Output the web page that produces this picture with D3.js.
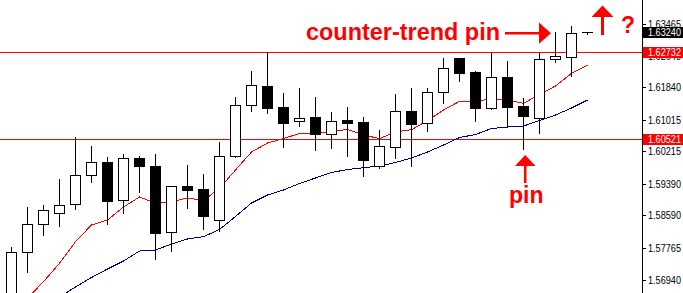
<!DOCTYPE html>
<html>
<head>
<meta charset="utf-8">
<script src="https://cdn.jsdelivr.net/npm/d3@7"></script>
<style>
  html, body { margin: 0; padding: 0; background: #fff; }
  svg { display: block; }
</style>
</head>
<body>
<svg id="chart" width="683" height="293"></svg>
<script>
// GBP/USD style candle data (one bar per index)
const opens  = [1.56437, 1.57649, 1.58361, 1.58641, 1.58869, 1.59606, 1.59937, 1.58971, 1.60038, 1.59835,
                1.58153, 1.59334, 1.59258, 1.58463, 1.60104, 1.61385, 1.61876, 1.61342, 1.60979, 1.61088,
                1.60663, 1.61012, 1.60961, 1.59850, 1.60333, 1.61240, 1.60928, 1.61716, 1.62587, 1.62231,
                1.61324, 1.62104, 1.61367, 1.61070, 1.62554, 1.62620, 1.63245];
const highs  = [1.57810, 1.58826, 1.58877, 1.59538, 1.60605, 1.60369, 1.60089, 1.60165, 1.60122, 1.60165,
                1.59327, 1.59893, 1.59665, 1.60486, 1.61622, 1.62282, 1.62765, 1.61723, 1.61850, 1.61622,
                1.61240, 1.61367, 1.61113, 1.60783, 1.61705, 1.61850, 1.61850, 1.62613, 1.62587, 1.62282,
                1.62732, 1.62536, 1.61588, 1.62747, 1.63273, 1.63426, 1.63262];
const lows   = [1.56310, 1.57156, 1.58097, 1.58325, 1.58757, 1.59444, 1.58376, 1.58656, 1.59189, 1.57487,
                1.57690, 1.58783, 1.58249, 1.58198, 1.60079, 1.61248, 1.61197, 1.60333, 1.60867, 1.60257,
                1.60308, 1.60104, 1.59596, 1.59799, 1.60054, 1.59843, 1.60740, 1.61451, 1.62010, 1.60994,
                1.61291, 1.60826, 1.60282, 1.60689, 1.62493, 1.62137, 1.63205];
const closes = [1.57649, 1.58361, 1.58717, 1.58844, 1.59606, 1.59937, 1.58961, 1.60038, 1.59850, 1.58148,
                1.59327, 1.59240, 1.58580, 1.60089, 1.61393, 1.61893, 1.61324, 1.60943, 1.61070, 1.60663,
                1.60986, 1.60943, 1.60003, 1.60343, 1.61240, 1.60918, 1.61716, 1.62325, 1.62214, 1.61324,
                1.62097, 1.61350, 1.61121, 1.62554, 1.62630, 1.63215, 1.63240];

// Fast (red) and slow (blue) moving averages
const maFast = [1.56056, 1.56488, 1.56902, 1.57370, 1.57919, 1.58343, 1.58470, 1.58801, 1.59055, 1.58895,
                1.58935, 1.59029, 1.58966, 1.59276, 1.59741, 1.60198, 1.60427, 1.60541, 1.60668, 1.60681,
                1.60719, 1.60775, 1.60630, 1.60541, 1.60707, 1.60765, 1.60999, 1.61266, 1.61487, 1.61482,
                1.61553, 1.61520, 1.61436, 1.61660, 1.61876, 1.62198, 1.62409];
const maSlow = [1.55904, 1.56107, 1.56310, 1.56513, 1.56768, 1.57009, 1.57225, 1.57428, 1.57682, 1.57708,
                1.57860, 1.57987, 1.58046, 1.58229, 1.58559, 1.58902, 1.59106, 1.59233, 1.59398, 1.59538,
                1.59677, 1.59754, 1.59799, 1.59843, 1.59932, 1.60046, 1.60198, 1.60376, 1.60567, 1.60643,
                1.60796, 1.60834, 1.60859, 1.60999, 1.61139, 1.61317, 1.61520];

// Price axis ticks and marked levels
const tickValues = [1.63465, 1.62640, 1.61840, 1.61015, 1.60215, 1.59390, 1.58590, 1.57765, 1.56940];
const levelValues = [1.62732, 1.60521];
const lastPrice = 1.63240;

const W = 683, H = 293, axisX = 642.5;
const RED = "#ff0000", NAVY = "#000080";

const svg = d3.select("#chart");

const x = d3.scaleLinear().domain([0, 36]).range([11.5, 587.5]);
const y = d3.scaleLinear().domain([1.56940, 1.63465]).range([280.2, 23.5]);
const py = v => Math.round(y(v)) + 0.5;

const bars = opens.map((o, i) => ({ i, o, h: highs[i], l: lows[i], c: closes[i] }));

// Horizontal levels
svg.append("g").selectAll("line").data(levelValues).join("line")
  .attr("x1", 0).attr("x2", axisX)
  .attr("y1", d => py(d)).attr("y2", d => py(d))
  .attr("stroke", RED).attr("stroke-width", 1)
  .attr("shape-rendering", "crispEdges");

// Moving averages
const maLine = d3.line().x((d, i) => x(i)).y(d => y(d));
svg.append("path").datum(maSlow).attr("d", maLine)
  .attr("fill", "none").attr("stroke", NAVY).attr("stroke-width", 1)
  .attr("shape-rendering", "crispEdges");
svg.append("path").datum(maFast).attr("d", maLine)
  .attr("fill", "none").attr("stroke", RED).attr("stroke-width", 1)
  .attr("shape-rendering", "crispEdges");

// Candles
const cg = svg.append("g").attr("shape-rendering", "crispEdges");
const candle = cg.selectAll("g").data(bars).join("g");
candle.append("line")
  .attr("x1", d => x(d.i)).attr("x2", d => x(d.i))
  .attr("y1", d => py(d.h)).attr("y2", d => py(d.l))
  .attr("stroke", "#000").attr("stroke-width", 1);
candle.append("rect")
  .attr("x", d => x(d.i) - 5)
  .attr("width", 10)
  .attr("y", d => Math.min(py(d.o), py(d.c)))
  .attr("height", d => Math.max(0.01, Math.abs(py(d.o) - py(d.c))))
  .attr("fill", d => d.c >= d.o ? "#fff" : "#000")
  .attr("stroke", "#000").attr("stroke-width", 1);

// Price axis
svg.append("rect").attr("x", axisX + 0.5).attr("y", 0).attr("width", W - axisX).attr("height", H).attr("fill", "#fff");
svg.append("line").attr("x1", axisX).attr("x2", axisX).attr("y1", 0).attr("y2", H)
  .attr("stroke", "#000").attr("shape-rendering", "crispEdges");

const ax = svg.append("g").attr("transform", `translate(${axisX},0)`);
const tk = ax.selectAll("g.tick").data(tickValues).join("g").attr("class", "tick")
  .attr("transform", d => `translate(0,${py(d)})`);
tk.append("line").attr("x1", 0).attr("x2", 3).attr("stroke", "#000").attr("shape-rendering", "crispEdges");
tk.append("text").attr("x", 5.5).attr("dy", "0.36em")
  .attr("font-family", "Liberation Sans, Arial, sans-serif").attr("font-size", 11)
  .attr("textLength", 33).attr("lengthAdjust", "spacingAndGlyphs")
  .attr("fill", "#000").text(d => d3.format(".5f")(d));

// Value tags on the axis
const tags = [
  ...levelValues.map(v => ({ v, bg: RED })),
  { v: lastPrice, bg: "#000" }
];
const tg = ax.selectAll("g.tag").data(tags).join("g").attr("class", "tag")
  .attr("transform", d => `translate(0,${py(d.v)})`);
tg.append("rect").attr("x", 0.5).attr("y", -6).attr("width", W - axisX).attr("height", 11)
  .attr("fill", d => d.bg).attr("shape-rendering", "crispEdges");
tg.append("text").attr("x", 5.5).attr("dy", "0.36em")
  .attr("font-family", "Liberation Sans, Arial, sans-serif").attr("font-size", 11)
  .attr("textLength", 33).attr("lengthAdjust", "spacingAndGlyphs")
  .attr("fill", "#fff").text(d => d3.format(".5f")(d.v));

// Annotations
const note = svg.append("g").attr("fill", RED)
  .attr("font-family", "Liberation Sans, Arial, sans-serif").attr("font-weight", "bold");
note.append("text").attr("x", 306).attr("y", 39.5).attr("font-size", 23)
  .attr("textLength", 194).attr("lengthAdjust", "spacingAndGlyphs")
  .text("counter-trend pin");
note.append("rect").attr("x", 505).attr("y", 32).attr("width", 35).attr("height", 2.5);
note.append("path").attr("d", "M539,22.5 L551,33.2 L539,43.8 Z");

note.append("text").attr("x", 509).attr("y", 203).attr("font-size", 23).text("pin");
note.append("rect").attr("x", 524).attr("y", 165).attr("width", 2.5).attr("height", 18);
note.append("path").attr("d", "M525.2,155 L535.5,166 L515,166 Z");

note.append("rect").attr("x", 601).attr("y", 16).attr("width", 3).attr("height", 19);
note.append("path").attr("d", "M602.5,5.5 L613.5,17 L591.5,17 Z");
note.append("text").attr("x", 621).attr("y", 33).attr("font-size", 23).text("?");
</script>
</body>
</html>
